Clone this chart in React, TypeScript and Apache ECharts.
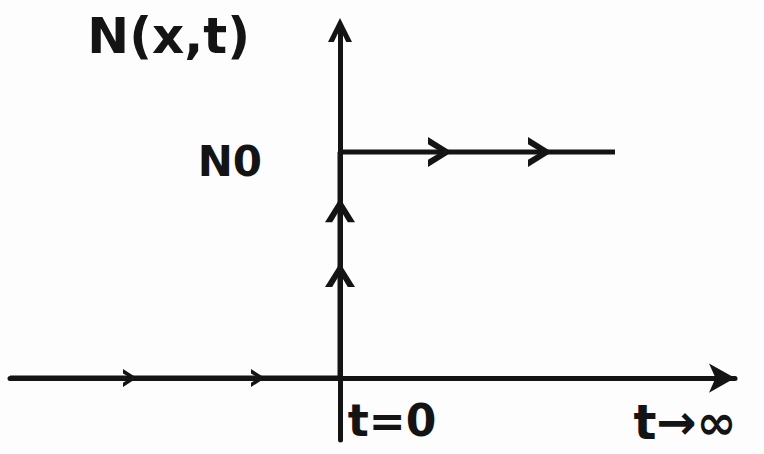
import React, { useEffect, useRef } from "react";
import * as echarts from "echarts";

// Time axis (t) and population axis (N) extents
const timeRange = [-3.3, 3.95];
const levelRange = [-0.274, 1.54];

// Step response: N = 0 before t = 0, jumps to N0 and stays there
const stepPath: [number, number][] = [
  [-3.3, 0],
  [0, 0],
  [0, 1],
  [2.75, 1],
];

// Direction markers along the path: [t, N, rotation]
const flowArrows: [number, number, number][] = [
  [-2.1, 0, -90],
  [-0.82, 0, -90],
  [0, 0.456, 0],
  [0, 0.743, 0],
  [1.0, 1, -90],
  [2.0, 1, -90],
];

// Tick labels
const timeTicks = [0, 3.45];
const timeTickText = ["t=0", "t→∞"];
const levelTicks = [1];
const levelTickText = ["N0"];
const levelAxisName = "N(x,t)";

const INK = "#141414";
const FONT = "DejaVu Sans";
const chevron = "path://M0,10 L5,0 L10,10 L7.6,10 L5,4.6 L2.4,10 Z";

export default function App() {
  const ref = useRef<HTMLDivElement>(null);

  useEffect(() => {
    if (!ref.current) return;
    const chart = echarts.init(ref.current, null, { renderer: "svg" });
    const txt = { fontFamily: FONT, fontWeight: "bold" as const, color: INK };
    chart.setOption({
      animation: false,
      backgroundColor: "#fdfdfd",
      grid: { left: 10, right: 29, top: 30, bottom: 14, outerBoundsMode: "none" },
      xAxis: {
        type: "value",
        min: timeRange[0],
        max: timeRange[1],
        splitLine: { show: false },
        axisTick: { show: false },
        axisLine: {
          onZero: true,
          lineStyle: { color: INK, width: 5 },
          symbol: ["none", "arrow"],
          symbolSize: [22, 26],
        },
        axisLabel: {
          customValues: timeTicks,
          margin: -42,
          ...txt,
          fontSize: 42,
          formatter: (v: number) => {
            const i = timeTicks.indexOf(v);
            return i === 0 ? `{a|${timeTickText[i]}}` : `{b|${timeTickText[i] ?? ""}}`;
          },
          rich: {
            a: { ...txt, fontSize: 44, padding: [0, 0, 0, 104] },
            b: { ...txt, fontSize: 48 },
          },
        },
      },
      yAxis: {
        type: "value",
        min: levelRange[0],
        max: levelRange[1],
        splitLine: { show: false },
        axisTick: { show: false },
        axisLine: {
          onZero: true,
          lineStyle: { color: INK, width: 5 },
          symbol: ["none", chevron],
          symbolSize: [30, 24],
        },
        axisLabel: {
          customValues: levelTicks,
          margin: -252,
          ...txt,
          fontSize: 42,
          formatter: (v: number) => `{n|${levelTickText[levelTicks.indexOf(v)] ?? ""}}`,
          rich: {
            n: { ...txt, fontSize: 42, padding: [18, 0, 0, 0] },
          },
        },
        name: levelAxisName,
        nameLocation: "end",
        nameGap: -6,
        nameTextStyle: {
          ...txt,
          fontSize: 50,
          align: "right",
          verticalAlign: "middle",
          padding: [0, 90, 0, 0],
        },
      },
      series: [
        {
          type: "line",
          data: stepPath,
          showSymbol: false,
          lineStyle: { color: INK, width: 5 },
          z: 3,
        },
        {
          type: "scatter",
          data: flowArrows.map(([t, n, r]) => ({
            value: [t, n],
            symbolRotate: r,
            symbolSize: n === 0 ? [18, 14] : [30, 24],
          })),
          symbol: chevron,
          itemStyle: { color: INK, opacity: 1 },
          z: 4,
        },
      ],
    });
    return () => chart.dispose();
  }, []);

  return (
    <div
      ref={ref}
      style={{ position: "fixed", left: 0, top: 0, width: 764, height: 454 }}
    />
  );
}
